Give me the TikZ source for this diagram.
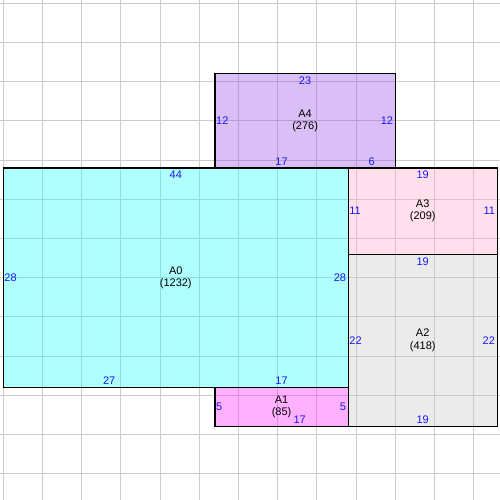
\documentclass[tikz,border=0pt]{standalone}
\usepackage{fontspec}
\setmainfont{Liberation Sans}
\definecolor{fillzero}{RGB}{29,255,255}
\definecolor{fillone}{RGB}{255,29,255}
\definecolor{filltwo}{RGB}{198,198,198}
\definecolor{fillthree}{RGB}{255,166,201}
\definecolor{fillfour}{RGB}{146,72,226}
\definecolor{lenblue}{RGB}{25,25,245}
\newcommand{\cellsz}{7.84pt}
\tikzset{
  gridline/.style = {draw=gray!40, line width=0.8pt},
  room/.style = {draw=black, line width=1.2pt, fill opacity=0.35,
    inner sep=0pt, outer sep=0pt, anchor=north west},% a rectangle of the plan
  roomname/.style = {align=center, inner sep=0pt,
    font=\fontsize{11}{12.5}\selectfont},
  lenlbl/.style = {text=lenblue, inner sep=0pt,
    font=\fontsize{11}{12}\selectfont},% side lengths
  toplbl/.style = {lenlbl, anchor=north, inner ysep=3pt},
  botlbl/.style = {lenlbl, anchor=south, inner ysep=2.5pt},
  leftlbl/.style = {lenlbl, anchor=west, inner xsep=1pt},
  rightlbl/.style = {lenlbl, anchor=east, inner xsep=2pt}
}
\begin{document}
\begin{tikzpicture}[x=\cellsz, y=-\cellsz]
  \useasboundingbox (-0.42,-0.42) rectangle (63.36,63.36);
  \foreach \k in {0,5,...,60} {
    \draw[gridline] (\k,-0.42) -- (\k,63.36);
    \draw[gridline] (-0.42,\k) -- (63.36,\k);
  }
  % rectangles
  \node[room, fill=fillfour, minimum width=23*\cellsz, minimum height=12*\cellsz] (A4) at (27,9) {};
  \node[room, fill=fillzero, minimum width=44*\cellsz, minimum height=28*\cellsz] (A0) at (0,21) {};
  \node[room, fill=fillthree, minimum width=19*\cellsz, minimum height=11*\cellsz] (A3) at (44,21) {};
  \node[room, fill=filltwo, minimum width=19*\cellsz, minimum height=22*\cellsz] (A2) at (44,32) {};
  \node[room, fill=fillone, minimum width=17*\cellsz, minimum height=5*\cellsz] (A1) at (27,49) {};
  % names
  \node[roomname] (n0) at (A0.center) {A0\\(1232)};
  \node[roomname] (n1) at (A1.center) {A1\\(85)};
  \node[roomname] (n2) at (A2.center) {A2\\(418)};
  \node[roomname] (n3) at (A3.center) {A3\\(209)};
  \node[roomname] (n4) at (A4.center) {A4\\(276)};
  % lengths
  \node[toplbl] (t4) at (A4.north) {23};
  \node[leftlbl] (l4) at (A4.west) {12};
  \node[rightlbl] (r4) at (A4.east) {12};
  \node[botlbl] (b4a) at (35.5,21) {17};
  \node[botlbl] (b4b) at (47,21) {6};
  \node[toplbl] (t0) at (A0.north) {44};
  \node[leftlbl] (l0) at (A0.west) {28};
  \node[rightlbl] (r0) at (A0.east) {28};
  \node[botlbl] (b0a) at (13.5,49) {27};
  \node[botlbl] (b0b) at (35.5,49) {17};
  \node[toplbl] (t3) at (A3.north) {19};
  \node[leftlbl] (l3) at (A3.west) {11};
  \node[rightlbl] (r3) at (A3.east) {11};
  \node[toplbl] (t2) at (A2.north) {19};
  \node[leftlbl] (l2) at (A2.west) {22};
  \node[rightlbl] (r2) at (A2.east) {22};
  \node[botlbl] (b2) at (A2.south) {19};
  \node[leftlbl] (l1) at (A1.west) {5};
  \node[rightlbl] (r1) at (A1.east) {5};
  \node[botlbl] (b1) at (37.8,54) {17};
\end{tikzpicture}
\end{document}
